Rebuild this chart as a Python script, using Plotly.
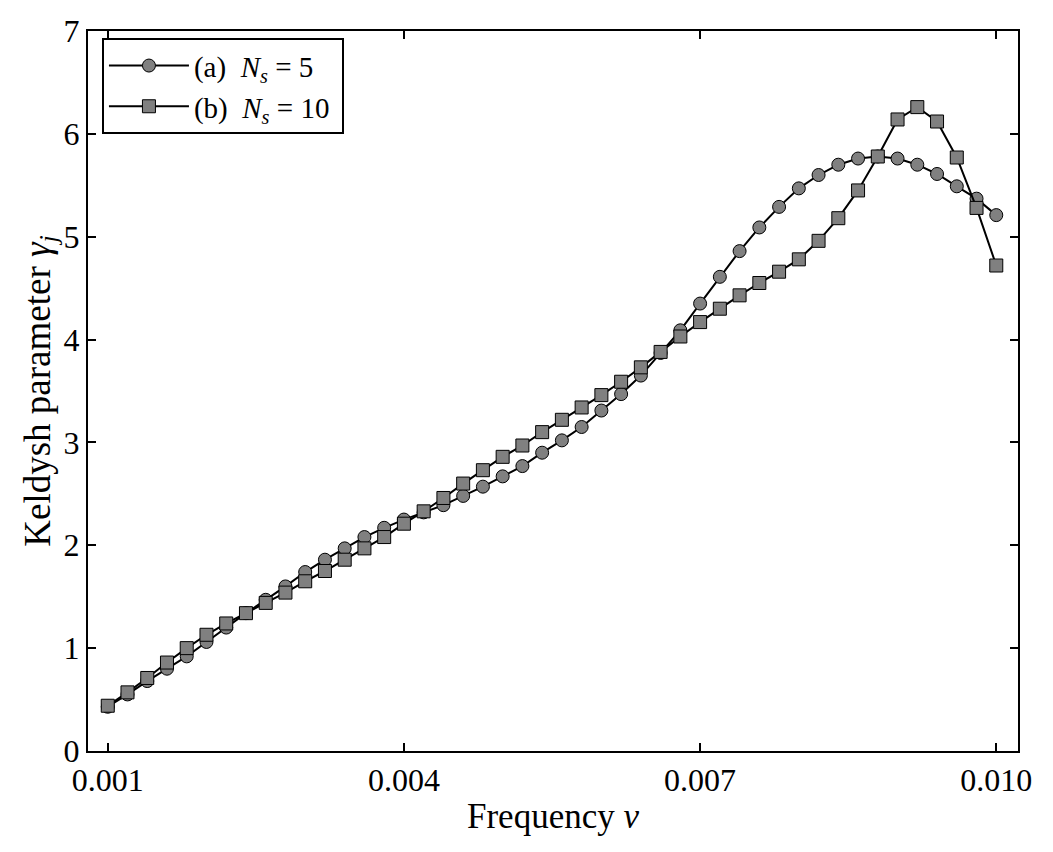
import plotly.graph_objects as go

freq = [0.0010, 0.0012, 0.0014, 0.0016, 0.0018, 0.0020, 0.0022, 0.0024, 0.0026, 0.0028,
        0.0030, 0.0032, 0.0034, 0.0036, 0.0038, 0.0040, 0.0042, 0.0044, 0.0046, 0.0048,
        0.0050, 0.0052, 0.0054, 0.0056, 0.0058, 0.0060, 0.0062, 0.0064, 0.0066, 0.0068,
        0.0070, 0.0072, 0.0074, 0.0076, 0.0078, 0.0080, 0.0082, 0.0084, 0.0086, 0.0088,
        0.0090, 0.0092, 0.0094, 0.0096, 0.0098, 0.0100]

gamma_ns5 = [0.43, 0.55, 0.68, 0.80, 0.92, 1.06, 1.20, 1.34, 1.47, 1.60,
             1.74, 1.86, 1.97, 2.08, 2.17, 2.25, 2.32, 2.39, 2.48, 2.57,
             2.67, 2.77, 2.90, 3.02, 3.15, 3.31, 3.47, 3.65, 3.87, 4.09,
             4.35, 4.61, 4.86, 5.09, 5.29, 5.47, 5.60, 5.70, 5.76, 5.78,
             5.76, 5.70, 5.61, 5.49, 5.37, 5.21]

gamma_ns10 = [0.44, 0.57, 0.71, 0.86, 1.00, 1.13, 1.24, 1.34, 1.44, 1.54,
              1.65, 1.75, 1.86, 1.97, 2.08, 2.21, 2.33, 2.46, 2.60, 2.73,
              2.86, 2.97, 3.10, 3.22, 3.34, 3.46, 3.59, 3.73, 3.88, 4.03,
              4.17, 4.30, 4.43, 4.55, 4.66, 4.78, 4.96, 5.18, 5.45, 5.78,
              6.14, 6.26, 6.12, 5.77, 5.28, 4.72]

x_ticks = [0.001, 0.004, 0.007, 0.010]
x_tick_labels = ["0.001", "0.004", "0.007", "0.010"]
y_ticks = [0, 1, 2, 3, 4, 5, 6, 7]

FONT = "Liberation Serif"
GRAY = "#808080"

fig = go.Figure()
fig.add_trace(go.Scatter(
    x=freq, y=gamma_ns5, mode="lines+markers",
    name="(a)  <i>N</i><sub><i>s</i></sub> = 5 ",
    line=dict(color="black", width=2),
    marker=dict(symbol="circle", size=13, color=GRAY, line=dict(color="black", width=1)),
))
fig.add_trace(go.Scatter(
    x=freq, y=gamma_ns10, mode="lines+markers",
    name="(b)  <i>N</i><sub><i>s</i></sub> = 10 ",
    line=dict(color="black", width=2),
    marker=dict(symbol="square", size=13, color=GRAY, line=dict(color="black", width=1)),
))

axis_common = dict(
    showline=True, linecolor="black", linewidth=2, mirror="ticks",
    ticks="inside", ticklen=8, tickwidth=1.5, tickcolor="black",
    showgrid=False, zeroline=False,
    tickfont=dict(family=FONT, size=32, color="black"),
)

fig.update_xaxes(
    range=[0.0008, 0.01022], tickvals=x_ticks, ticktext=x_tick_labels,
    title=dict(text="Frequency <i>ν</i>", font=dict(family=FONT, size=35, color="black"), standoff=6),
    **axis_common,
)
fig.update_yaxes(
    range=[0, 7], tickvals=y_ticks,
    title=dict(text="Keldysh parameter <i>γ</i><sub><i>j</i></sub>", font=dict(family=FONT, size=37, color="black"), standoff=2),
    **axis_common,
)

fig.update_layout(
    width=1053, height=852,
    margin=dict(l=88, r=35, t=31, b=101),
    plot_bgcolor="white", paper_bgcolor="white",
    font=dict(family=FONT, color="black"),
    legend=dict(
        x=0.015, y=0.99, xanchor="left", yanchor="top",
        bgcolor="white", bordercolor="black", borderwidth=2,
        font=dict(family=FONT, size=29, color="black"),
        itemwidth=80, tracegroupgap=6,
    ),
)

fig.write_html("out.html")
